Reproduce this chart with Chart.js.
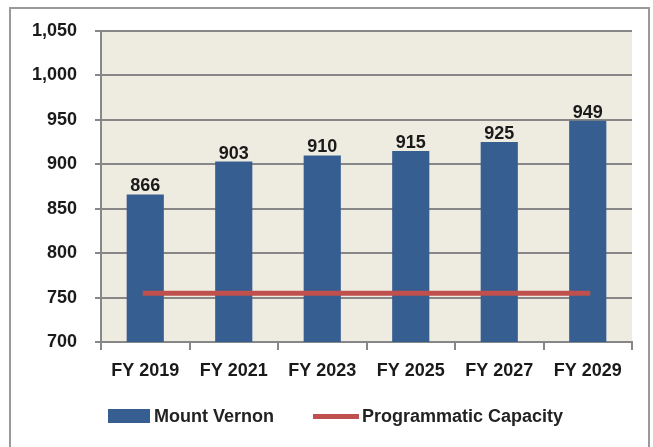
<!DOCTYPE html>
<html>
<head>
<meta charset="utf-8">
<script src="https://cdn.jsdelivr.net/npm/chart.js@4.4.1/dist/chart.umd.min.js"></script>
<style>
  html, body { margin: 0; padding: 0; background: #ffffff; }
  #wrap { position: relative; width: 653px; height: 447px; overflow: hidden; }
  #chartBox { position: absolute; left: 0; top: 0; width: 653px; height: 447px; }
  #frame { position: absolute; left: 9px; top: 7px; width: 641px; height: 460px; border: 2px solid #9a9a9a; box-sizing: border-box; pointer-events: none; }
  .lg { position: absolute; font-family: "Liberation Sans", Arial, sans-serif; font-weight: bold; font-size: 18px; color: #222; line-height: 20px; white-space: nowrap; }
  .swatch { position: absolute; }
</style>
</head>
<body>
<div id="wrap">
  <div id="chartBox"><canvas id="c"></canvas></div>
  <div id="frame"></div>
  <div class="swatch" style="left:108px; top:409px; width:42px; height:14px; background:#365e91;"></div>
  <div class="lg" style="left:154px; top:406px;">Mount Vernon</div>
  <div class="swatch" style="left:313px; top:414px; width:46px; height:5px; background:#c0504d;"></div>
  <div class="lg" style="left:362px; top:406px;">Programmatic Capacity</div>
</div>
<script>
const categories = ["FY 2019", "FY 2021", "FY 2023", "FY 2025", "FY 2027", "FY 2029"];
const mountVernon = [866, 903, 910, 915, 925, 949];
const programmaticCapacity = [755, 755, 755, 755, 755, 755];
const yMin = 700, yMax = 1050, yStep = 50;

const FONT = "'Liberation Sans', Arial, sans-serif";
const GRID = "#878787";

const plotBg = {
  id: "plotBg",
  beforeDraw(chart) {
    const a = chart.chartArea, ctx = chart.ctx;
    ctx.save();
    ctx.fillStyle = "#eeece1";
    ctx.fillRect(a.left, a.top, a.right - a.left, a.bottom - a.top);
    ctx.restore();
  }
};

const barLabels = {
  id: "barLabels",
  afterDatasetsDraw(chart) {
    const ctx = chart.ctx;
    chart.data.datasets.forEach((ds, i) => {
      if (ds.type !== "bar") return;
      const meta = chart.getDatasetMeta(i);
      ctx.save();
      ctx.font = "bold 18px " + FONT;
      ctx.fillStyle = "#1a1a1a";
      ctx.textAlign = "center";
      ctx.textBaseline = "alphabetic";
      meta.data.forEach((el, j) => {
        ctx.fillText(String(ds.data[j]), el.x, el.y - 3);
      });
      ctx.restore();
    });
  }
};

new Chart(document.getElementById("c"), {
  data: {
    labels: categories,
    datasets: [
      {
        type: "line",
        label: "Programmatic Capacity",
        data: programmaticCapacity,
        borderColor: "#c0504d",
        borderWidth: 5,
        borderCapStyle: "square",
        pointRadius: 0,
        fill: false,
        order: 0
      },
      {
        type: "bar",
        label: "Mount Vernon",
        data: mountVernon,
        backgroundColor: "#365e91",
        borderWidth: 0,
        categoryPercentage: 1.0,
        barPercentage: 0.42,
        order: 1
      }
    ]
  },
  options: {
    responsive: true,
    maintainAspectRatio: false,
    animation: false,
    layout: { padding: { left: 0, right: 21, top: 31, bottom: 0 } },
    plugins: { legend: { display: false }, tooltip: { enabled: false } },
    scales: {
      x: {
        offset: true,
        grid: { offset: true, drawOnChartArea: false, drawTicks: true, tickLength: 8, color: GRID, lineWidth: 2 },
        border: { display: true, color: GRID, width: 2 },
        ticks: { color: "#1a1a1a", font: { family: FONT, size: 18, weight: "bold" }, padding: 10, maxRotation: 0 },
        afterFit(scale) { scale.height = 105; }
      },
      y: {
        min: yMin,
        max: yMax,
        grid: { color: GRID, lineWidth: 2, drawTicks: true, tickLength: 6 },
        border: { display: true, color: GRID, width: 2 },
        ticks: {
          stepSize: yStep,
          color: "#1a1a1a",
          font: { family: FONT, size: 18, weight: "bold" },
          padding: 18,
          callback: (v) => Number(v).toLocaleString("en-US")
        },
        afterFit(scale) { scale.width = 101; }
      }
    }
  },
  plugins: [plotBg, barLabels]
});
</script>
</body>
</html>
